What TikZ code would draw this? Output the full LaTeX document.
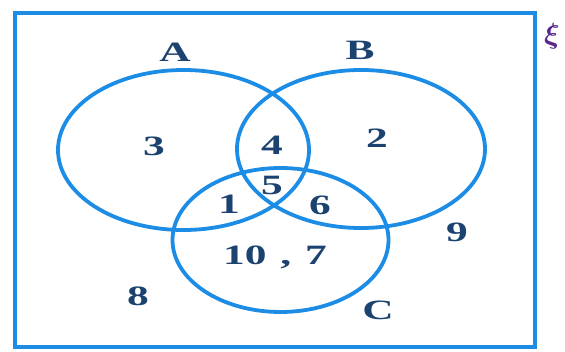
\documentclass[tikz,border=0pt]{standalone}
\usepackage{bm}
\usepackage{fontspec}
\setmainfont{Liberation Serif}
\usetikzlibrary{positioning,shapes.geometric}

\definecolor{vennblue}{RGB}{28,140,228}
\definecolor{numblue}{RGB}{28,66,112}
\definecolor{xipurple}{RGB}{90,40,140}

\begin{document}
\begin{tikzpicture}[
  x=1pt, y=-1pt,
  venn/.style={ellipse,draw=vennblue,line width=3.8pt,inner sep=0pt},
  lbl/.style={text=numblue,font=\fontsize{28}{30}\selectfont\bfseries,inner sep=0pt,xscale=1.55,transform shape}
]
  \useasboundingbox (0,0) rectangle (565,352);
  % universal set
  \node[draw=vennblue,line width=4.5pt,minimum width=520pt,minimum height=334pt,inner sep=0pt] (U) at (275,180) {};
  \node[text=xipurple,inner sep=0pt,scale=2.9,transform shape] (xi) at (552,36) {$\bm{\xi}$};

  % the three sets
  \node[venn,minimum width=251pt,minimum height=160pt] (setA) at (183.5,150) {};
  \node[venn,minimum width=248pt,minimum height=158pt] (setB) at (361,149) {};
  \node[venn,minimum width=216pt,minimum height=144pt] (setC) at (280.5,240) {};

  \node[lbl] (labA) at (175,52) {A};
  \node[lbl] (labB) at (360,50) {B};
  \node[lbl] (labC) at (378,310) {C};

  % elements
  \node[lbl] (n3) at (154,146) {3};
  \node[lbl] (n4) at (272,145) {4};
  \node[lbl] (n2) at (377,138) {2};
  \node[lbl] (n5) at (272,185) {5};
  \node[lbl] (n1) at (229,204) {1};
  \node[lbl] (n6) at (320,205) {6};
  \node[lbl] (n107) at (275,257) {10\hspace{9pt},\hspace{9pt}7};
  \node[lbl] (n9) at (457,232) {9};
  \node[lbl] (n8) at (138,296) {8};
\end{tikzpicture}
\end{document}
